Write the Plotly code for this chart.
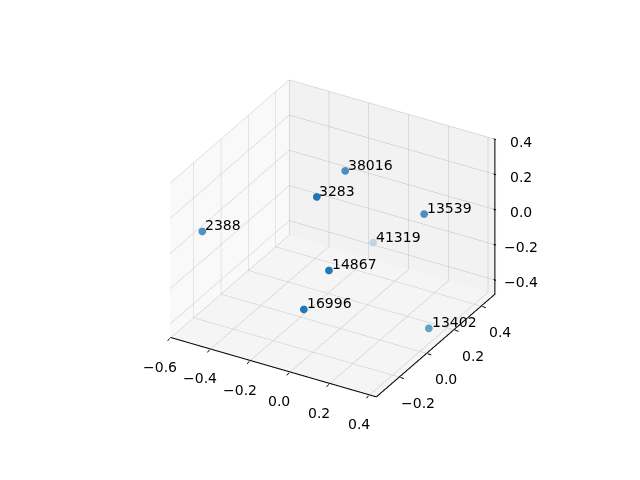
import plotly.graph_objects as go

# Point labels and 3-D coordinates
labels = ["2388", "3283", "38016", "13539", "41319", "14867", "16996", "13402"]
xs = [-0.534, -0.030, -0.049, 0.296, -0.137, 0.089, 0.038, 0.375]
ys = [-0.234, -0.129, 0.107, 0.183, 0.440, -0.213, -0.323, 0.102]
zs = [0.054, 0.344, 0.327, 0.143, -0.333, 0.021, -0.143, -0.426]

# Axis ticks
x_ticks = [-0.6, -0.4, -0.2, 0.0, 0.2, 0.4]
y_ticks = [-0.2, 0.0, 0.2, 0.4]
z_ticks = [-0.4, -0.2, 0.0, 0.2, 0.4]
x_range = [-0.600, 0.441]
y_range = [-0.375, 0.500]
z_range = [-0.4815, 0.400]

# depth-shading of the markers (matplotlib style)
marker_colors = ["#4d93c4", "#1f77b4", "#4890c2", "#4890c2",
                 "#bcd6e8", "#2279b5", "#2178b5", "#63a0cb"]

FONT = dict(family="DejaVu Sans", size=14, color="black")


def fmt(v):
    return f"{v:.1f}".replace("-", "\u2212")


x0, x1 = x_range
y0, y1 = y_range
z0, z1 = z_range
ex = (x1 - x0) * 0.004
ey = (y1 - y0) * 0.004
ez = (z1 - z0) * 0.004

# axis lines (matplotlib places them on these edges)
lx, ly, lz = [], [], []


def seg(a, b):
    lx.extend([a[0], b[0], None])
    ly.extend([a[1], b[1], None])
    lz.extend([a[2], b[2], None])


seg((x0, y0 + ey, z0 + ez), (x1 - ex, y0 + ey, z0 + ez))
seg((x1 - ex, y0 + ey, z0 + ez), (x1 - ex, y1, z0 + ez))
seg((x1 - ex, y1 - ey, z0 + ez), (x1 - ex, y1 - ey, z1))

fig = go.Figure()
fig.add_trace(go.Scatter3d(
    x=lx, y=ly, z=lz, mode="lines",
    line=dict(color="black", width=2),
    hoverinfo="skip", showlegend=False,
))
fig.add_trace(go.Scatter3d(
    x=xs, y=ys, z=zs,
    mode="markers",
    marker=dict(size=4.5, color=marker_colors, line=dict(width=0)),
    hoverinfo="skip", showlegend=False,
))

TICK = dict(showarrow=True, arrowhead=0, arrowwidth=1, arrowcolor="black",
            standoff=0, startstandoff=0, text="")
annotations = []
# tick marks
for v in x_ticks:
    annotations.append(dict(TICK, x=v, y=y0, z=z0, ax=-3, ay=4))
for v in y_ticks:
    annotations.append(dict(TICK, x=x1, y=v, z=z0, ax=5, ay=1.6))
for v in z_ticks:
    annotations.append(dict(TICK, x=x1, y=y1, z=v, ax=-4, ay=-1.2))
# point labels
for lab, px, py, pz in zip(labels, xs, ys, zs):
    annotations.append(dict(x=px, y=py, z=pz, text=lab, showarrow=False,
                            xanchor="left", yanchor="bottom",
                            xshift=1, yshift=-4, font=FONT))
# tick labels
for v in x_ticks:
    annotations.append(dict(x=v, y=y0, z=z0, text=fmt(v), showarrow=False,
                            xanchor="center", yanchor="middle",
                            xshift=-9.5, yshift=-28.5, font=FONT))
for v in y_ticks:
    annotations.append(dict(x=x1, y=v, z=z0, text=fmt(v), showarrow=False,
                            xanchor="center", yanchor="middle",
                            xshift=18, yshift=-25.5, font=FONT))
for v in z_ticks:
    annotations.append(dict(x=x1, y=y1, z=v, text=fmt(v), showarrow=False,
                            xanchor="center", yanchor="middle",
                            xshift=25, yshift=-2, font=FONT))

axis_common = dict(
    showbackground=True,
    gridcolor="#c0c0c0",
    gridwidth=1,
    showline=False,
    ticks="",
    showticklabels=False,
    zeroline=False,
    showspikes=False,
    title=dict(text=""),
    autorange=False,
)

k = 1.034
fig.update_layout(
    width=640, height=480,
    paper_bgcolor="white",
    margin=dict(l=0, r=0, t=0, b=0),
    showlegend=False,
    scene=dict(
        domain=dict(x=[0.0275, 0.9875], y=[0.0375, 1.0]),
        aspectmode="manual",
        aspectratio=dict(x=k, y=k, z=0.75 * k),
        xaxis=dict(axis_common, range=x_range, tickvals=x_ticks,
                   backgroundcolor="rgb(249,249,249)"),
        yaxis=dict(axis_common, range=y_range, tickvals=y_ticks,
                   backgroundcolor="rgb(242,242,242)"),
        zaxis=dict(axis_common, range=z_range, tickvals=z_ticks,
                   backgroundcolor="rgb(245,245,245)"),
        camera=dict(
            eye=dict(x=0.8335, y=-1.444, z=0.9625),
            up=dict(x=0, y=0, z=1),
            center=dict(x=0, y=0, z=0),
            projection=dict(type="orthographic"),
        ),
        annotations=annotations,
    ),
)

fig.write_html("out.html", config={"displayModeBar": False})
